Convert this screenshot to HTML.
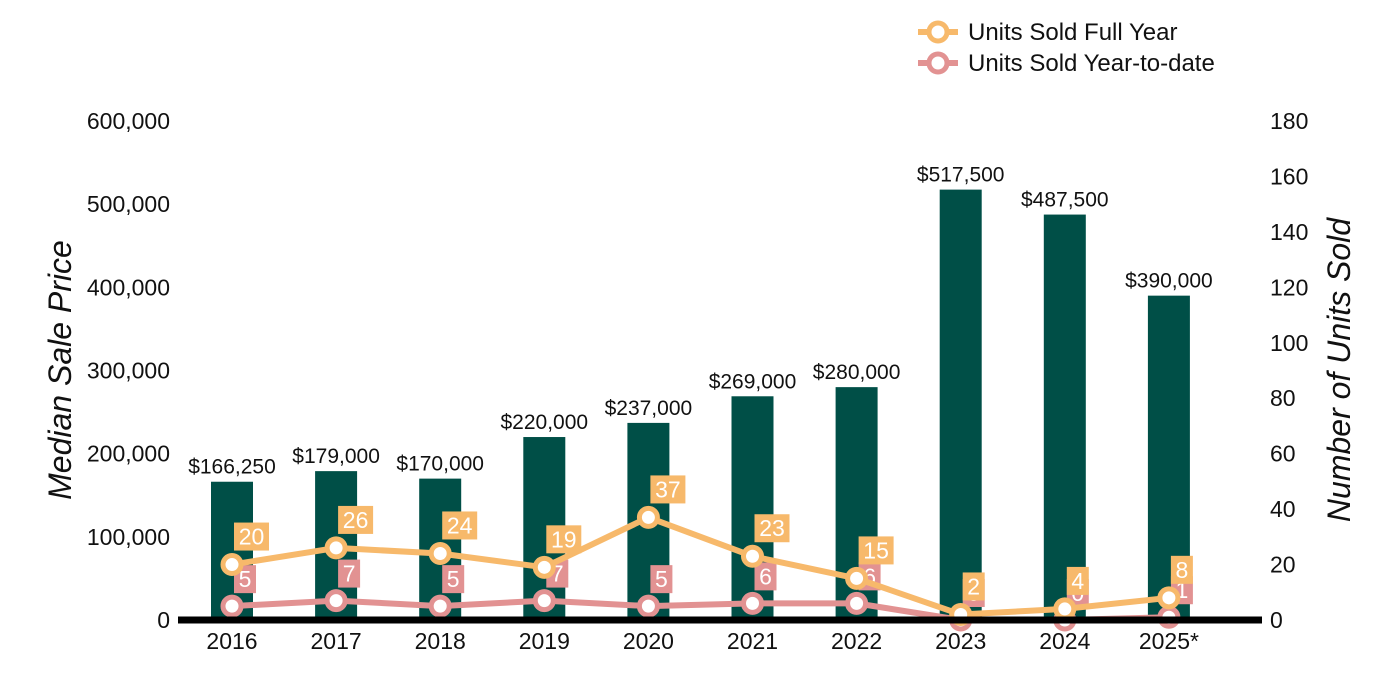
<!DOCTYPE html>
<html><head><meta charset="utf-8"><style>
html,body{margin:0;padding:0;background:#fff;}
svg{display:block;font-family:"Liberation Sans",Arial,sans-serif;}
</style></head><body>
<svg id="chart" width="1400" height="700" viewBox="0 0 1400 700">
<g id="bars"></g>
<g id="lines"></g>
<g id="axes"></g>
<text x="0" y="0" transform="translate(71,370) rotate(-90)" text-anchor="middle" font-size="32" font-style="italic" fill="#111">Median Sale Price</text>
<text x="0" y="0" transform="translate(1350,370) rotate(-90)" text-anchor="middle" font-size="32" font-style="italic" fill="#111">Number of Units Sold</text>
<g>
<g>
<line x1="918" y1="32" x2="958" y2="32" stroke="#F7B96B" stroke-width="6"/>
<circle cx="938" cy="32" r="9" fill="#fff" stroke="#F7B96B" stroke-width="5"/>
<text x="968" y="40" font-size="24" fill="#111">Units Sold Full Year</text></g>
<g>
<line x1="918" y1="63" x2="958" y2="63" stroke="#E29292" stroke-width="6"/>
<circle cx="938" cy="63" r="9" fill="#fff" stroke="#E29292" stroke-width="5"/>
<text x="968" y="71" font-size="24" fill="#111">Units Sold Year-to-date</text></g>
</g>
</svg>
<script>
const years=["2016","2017","2018","2019","2020","2021","2022","2023","2024","2025*"];
const prices=[166250,179000,170000,220000,237000,269000,280000,517500,487500,390000];
const fullYear=[20,26,24,19,37,23,15,2,4,8];
const ytd=[5,7,5,7,5,6,6,0,0,1];
const leftTicks=[0,100000,200000,300000,400000,500000,600000];
const rightTicks=[0,20,40,60,80,100,120,140,160,180];
const NS="http://www.w3.org/2000/svg";
const y0=620,yTop=121;
const yL=v=>y0-(v/600000)*(y0-yTop);
const yR=v=>y0-(v/180)*(y0-yTop);
const xC=i=>232+i*104.1;
function mk(tag,attrs,parent,txt){const e=document.createElementNS(NS,tag);for(const k in attrs)e.setAttribute(k,attrs[k]);if(txt!==undefined)e.textContent=txt;parent.appendChild(e);return e;}
const bars=document.getElementById('bars'),lines=document.getElementById('lines'),axes=document.getElementById('axes');
prices.forEach((p,i)=>{
 const r=mk('rect',{x:xC(i)-21,y:yL(p),width:42,height:y0-yL(p),fill:'#004F47'},bars);
 
 
 const t=mk('text',{x:xC(i),y:yL(p)-8,'text-anchor':'middle','font-size':21,fill:'#111'},bars,'$'+p.toLocaleString('en-US'));
 
 
});
leftTicks.forEach(v=>{const t=mk('text',{x:170,y:yL(v)+8,'text-anchor':'end','font-size':23,fill:'#111'},axes,v.toLocaleString('en-US'));
 
 });
rightTicks.forEach(v=>{const t=mk('text',{x:1270,y:yR(v)+8,'text-anchor':'start','font-size':23,fill:'#111'},axes,String(v));
 
 });
years.forEach((yr,i)=>{const t=mk('text',{x:xC(i),y:649,'text-anchor':'middle','font-size':23,fill:'#111'},axes,yr);
 
 });
const ax=mk('line',{x1:178,y1:620,x2:1262,y2:620,stroke:'#000','stroke-width':7},axes);


function series(vals,color,name,labelDy){
 const pl=mk('polyline',{points:vals.map((v,i)=>xC(i)+','+yR(v)).join(' '),fill:'none',stroke:color,'stroke-width':6,'stroke-linejoin':'round'},lines);
 
 
 vals.forEach((v,i)=>{
  const c=mk('circle',{cx:xC(i),cy:yR(v),r:9,fill:'#fff',stroke:color,'stroke-width':5},lines);
  
  
 });
 vals.forEach((v,i)=>{
  const s=String(v),w=s.length>1?35:22,bx=xC(i)+2,by=yR(v)+labelDy;
  const g=mk('g',{},lines);
  
  
  mk('rect',{x:bx,y:by,width:w,height:28,fill:color},g);
  mk('text',{x:bx+w/2,y:by+22,'text-anchor':'middle','font-size':23,fill:'#fff'},g,s);
 });
}
series(ytd,'#E29292','ytd',-41);
series(fullYear,'#F7B96B','full-year',-42);
</script>
</body></html>
